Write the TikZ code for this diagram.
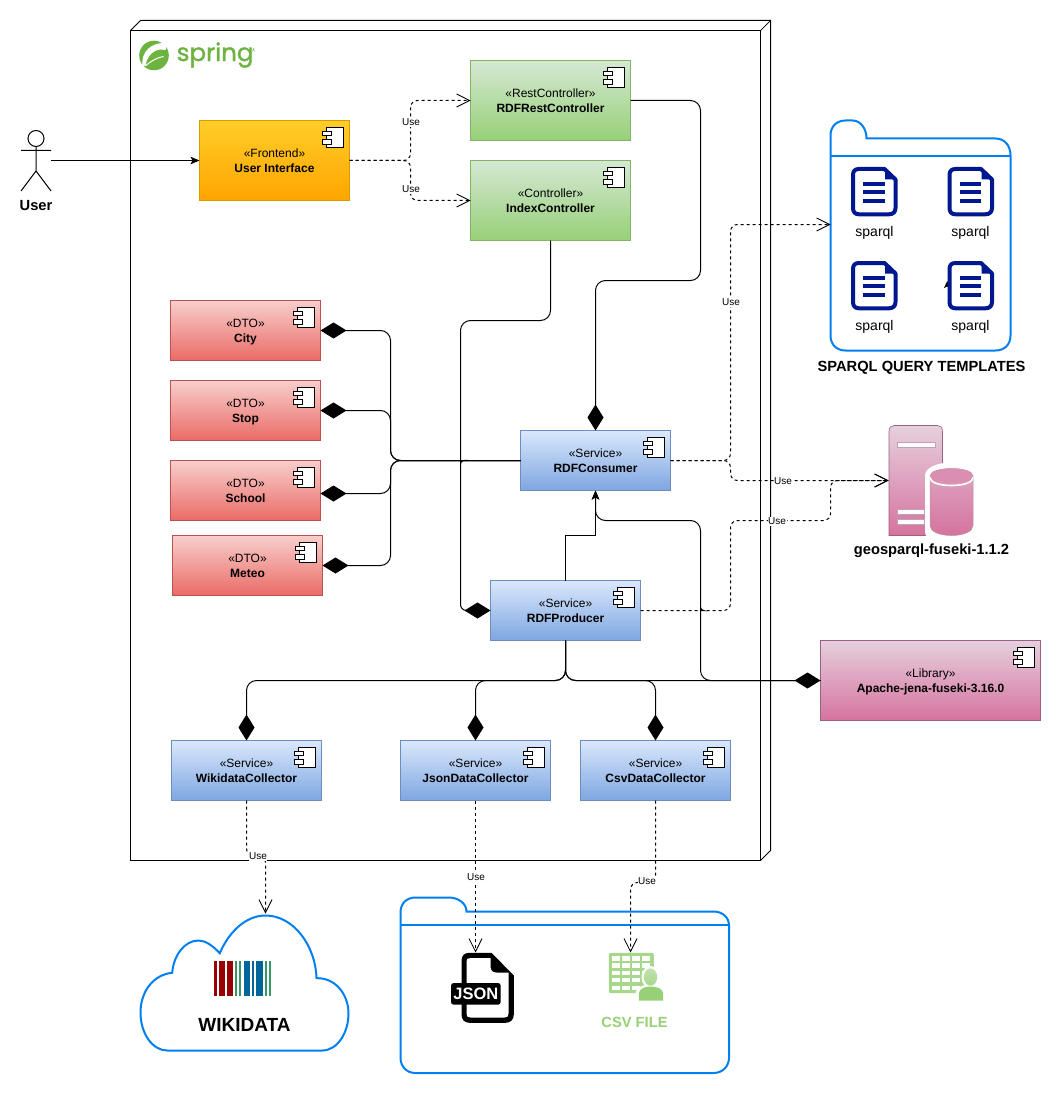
\documentclass[tikz,border=0pt]{standalone}
\usepackage{fontspec}
\setmainfont{Liberation Sans}
\newfontfamily\springfont[FakeBold=1.2]{Poppins}
\usetikzlibrary{arrows.meta,calc}
\definecolor{folderblue}{HTML}{007FF0}
\definecolor{docblue}{HTML}{00188F}
\definecolor{springgreen}{HTML}{6DB33F}
\definecolor{csvgreen}{HTML}{97D077}
\definecolor{pinktop}{HTML}{E6D0DE}
\definecolor{pinkbot}{HTML}{D5739D}
\definecolor{pinkline}{HTML}{996185}
\definecolor{orangetop}{HTML}{FFCD28}
\definecolor{orangebot}{HTML}{FFA500}
\definecolor{orangeline}{HTML}{D79B00}
\definecolor{greentop}{HTML}{D5E8D4}
\definecolor{greenline}{HTML}{82B366}
\definecolor{redtop}{HTML}{F8CECC}
\definecolor{redbot}{HTML}{EA6B66}
\definecolor{redline}{HTML}{B85450}
\definecolor{bluetop}{HTML}{DAE8FC}
\definecolor{bluebot}{HTML}{7EA6E0}
\definecolor{blueline}{HTML}{6C8EBF}
\tikzset{
  compbox/.style={draw,outer sep=0pt,inner sep=0pt,align=center,line width=1pt,
    font=\fontsize{12}{15}\selectfont},
  orangebox/.style={compbox,draw=orangeline,top color=orangetop,bottom color=orangebot},
  greenbox/.style={compbox,draw=greenline,top color=greentop,bottom color=csvgreen},
  redbox/.style={compbox,draw=redline,top color=redtop,bottom color=redbot},
  bluebox/.style={compbox,draw=blueline,top color=bluetop,bottom color=bluebot},
  pinkbox/.style={compbox,draw=pinkline,top color=pinktop,bottom color=pinkbot},
  conn/.style={line width=1pt,rounded corners=10pt},
  dashconn/.style={line width=1pt,rounded corners=7pt,dash pattern=on 3pt off 3pt},
  dia/.style={-{Diamond[length=26pt,width=16pt,sep=0pt]}},
  blocktip/.style={-{Stealth[length=9pt,width=7.5pt,inset=2pt]}},
  opentip/.style={-{Straight Barb[length=13pt,width=13pt,line width=0.8pt]}},
  uselabel/.style={fill=white,inner sep=0.6pt,font=\fontsize{10}{11}\selectfont},
  boldlabel/.style={inner sep=0pt,font=\fontsize{14.7}{16}\selectfont\bfseries},
  sparqllabel/.style={inner sep=0pt,font=\fontsize{14}{16}\selectfont},
  folderline/.style={draw=folderblue,line width=2pt,fill=white},
}
\newcommand\compnode[8]{%
  \node[#6,minimum width=#4pt,minimum height=#5pt] (#1) at (#2,#3) {\rule{0pt}{13pt}#7\\\strut\textbf{#8}};
  \draw[line width=1pt,fill=white] ([shift={(-23.3pt,-7pt)}]#1.north east) rectangle ++(17pt,-20pt);
  \draw[line width=1pt,fill=white] ([shift={(-26.7pt,-10.6pt)}]#1.north east) rectangle ++(8.4pt,-4.4pt);
  \draw[line width=1pt,fill=white] ([shift={(-26.7pt,-19.3pt)}]#1.north east) rectangle ++(8.4pt,-4.4pt);
}
\newcommand\sparqldoc[2]{%
  \begin{scope}[shift={(#1,#2)}]
    \draw[docblue,line width=4pt,line join=round,fill=white]
      (8,2) -- (33.5,2) -- (44.5,12.5) -- (44.5,41) .. controls (44.5,45) and (42,47.3) .. (38,47.3)
      -- (8,47.3) .. controls (4,47.3) and (2,45) .. (2,41) -- (2,8) .. controls (2,4) and (4,2) .. (8,2) -- cycle;
    \fill[docblue] (34,2) -- (44.5,12.5) -- (34,12.5) -- cycle;
    \foreach \r in {17,25.3,33.7} \fill[docblue] (12,\r-2) rectangle (33.5,\r+2);
  \end{scope}%
}
\begin{document}
\begin{tikzpicture}[x=1pt,y=-1pt]
\useasboundingbox[fill=white] (-0.5,-0.5) rectangle (1060.5,1093.5);

% spring box
\draw[line width=1pt,fill=white] (130,30) rectangle (760,860);
\draw[line width=1pt] (130,30) -- (140,20) -- (770,20) -- (770,850) -- (760,860);
\draw[line width=0.7pt] (760,30) -- (770,20);

% spring logo
\fill[springgreen] (153.5,55) circle[radius=14.8pt];
\fill[white] (166,40.5) circle[radius=2pt];
\fill[white] (142,66) .. controls (140,51) and (151,41.5) .. (166,42.5)
  .. controls (167,44) and (166,47) .. (165,49.5) .. controls (155,47) and (147,54) .. (145,65) -- cycle;
\draw[white,line width=1pt] (145,65.5) .. controls (151,60) and (157,57) .. (163,56);
\node[inner sep=0pt,anchor=west,text=springgreen,font=\springfont\fontsize{24.5}{30}\selectfont] (springtext) at (176,54.5) {spring};
\draw[springgreen,line width=0.4pt] (252,51) -- (253,48) -- (254,51);

% named free ends
\coordinate (sparqlin) at (830,224);
\coordinate (serverin) at (888,480);
\coordinate (cloudtop) at (265,913);
\coordinate (jsontop) at (475,952);
\coordinate (csvtop) at (630,952);
\coordinate (actorhand) at (50,160);

% actor
\draw[line width=1pt,fill=white] (35.5,138) circle[radius=8pt];
\draw[line width=1pt] (35.5,146) -- (35.5,170.5) (20.5,150) -- (50.5,150)
  (20.5,190.5) -- (35.5,170.5) -- (50.5,190.5);
\node[boldlabel] (userlabel) at (35.5,205) {User};

% nodes
\compnode{ui}{274}{160}{150}{80}{orangebox}{«Frontend»}{User Interface}
\compnode{rest}{550}{100}{160}{80}{greenbox}{«RestController»}{RDFRestController}
\compnode{index}{550}{200}{160}{80}{greenbox}{«Controller»}{IndexController}
\compnode{city}{245}{330}{150}{60}{redbox}{«DTO»}{City}
\compnode{stop}{245}{410}{150}{60}{redbox}{«DTO»}{Stop}
\compnode{school}{245}{490}{150}{60}{redbox}{«DTO»}{School}
\compnode{meteo}{247}{565}{150}{60}{redbox}{«DTO»}{Meteo}
\compnode{consumer}{595}{460}{150}{60}{bluebox}{«Service»}{RDFConsumer}
\compnode{producer}{565}{610}{150}{60}{bluebox}{«Service»}{RDFProducer}
\compnode{library}{930}{680}{220}{80}{pinkbox}{«Library»}{Apache-jena-fuseki-3.16.0}
\compnode{wikidata}{246}{770}{150}{60}{bluebox}{«Service»}{WikidataCollector}
\compnode{jsonc}{475}{770}{150}{60}{bluebox}{«Service»}{JsonDataCollector}
\compnode{csvc}{655}{770}{150}{60}{bluebox}{«Service»}{CsvDataCollector}

% sparql folder
\draw[folderline] (830,335) -- (830,135) .. controls (830,126) and (836,120) .. (845,120) -- (852,120)
  .. controls (860,120) and (866,128) .. (866,138) -- (995,138) .. controls (1004,138) and (1010,145) .. (1010,155)
  -- (1010,335) .. controls (1010,344) and (1004,350) .. (995,350) -- (845,350)
  .. controls (836,350) and (830,344) .. (830,335) -- cycle;
\draw[draw=folderblue,line width=2pt] (830,155.5) -- (1010,155.5);
\fill[black] (946.7,280.5) -- (950.5,287.5) -- (946.7,286) -- (943.5,287.5) -- cycle;
\sparqldoc{850.5}{166.5}
\sparqldoc{947}{166.5}
\sparqldoc{850.5}{260.5}
\sparqldoc{947}{260.5}
\node[sparqllabel] (sp1) at (874,232) {sparql};
\node[sparqllabel] (sp2) at (970,232) {sparql};
\node[sparqllabel] (sp3) at (874,326) {sparql};
\node[sparqllabel] (sp4) at (970,326) {sparql};
\node[boldlabel] (sparqltitle) at (921,367) {SPARQL QUERY TEMPLATES};

% server
\path[draw=pinkline,line width=0.6pt,top color=pinktop,bottom color=pinkbot] (888.5,535) -- (888.5,431)
  .. controls (888.5,427) and (890.5,425) .. (893.5,425) -- (937,425)
  .. controls (940,425) and (942,427) .. (942,431) -- (942,535) -- cycle;
\foreach \a/\b/\c in {896.7/441.7/934.7,896.7/508.3/924,896.7/519/924}
  \draw[fill=white,draw=pinkline!60!white,line width=0.5pt] (\a,\b) rectangle (\c,\b+5);
\fill[white] (924.5,475) .. controls (924.5,468) and (935,462) .. (951,462)
  .. controls (967,462) and (978,468) .. (978,475) -- (978,542) -- (930,542) .. controls (926,538) and (924.5,534) .. (924.5,530) -- cycle;
\path[draw=pinkline!70!white,line width=0.5pt,top color=pinktop!55!pinkbot,bottom color=pinkbot] (929.5,475.5)
  .. controls (929.5,471) and (939,468) .. (951,468) .. controls (963,468) and (972.5,471) .. (972.5,475.5)
  -- (972.5,525) .. controls (972.5,531) and (963,535) .. (951,535)
  .. controls (939,535) and (929.5,531) .. (929.5,525) -- cycle;
\fill[pinkbot!70!pinktop] (929.5,475.5)
  .. controls (929.5,471) and (939,468) .. (951,468) .. controls (963,468) and (972.5,471) .. (972.5,475.5)
  .. controls (972.5,480) and (963,483) .. (951,483) .. controls (939,483) and (929.5,480) .. (929.5,475.5) -- cycle;
\draw[white,line width=1.6pt] (929.5,477) .. controls (929.5,482) and (939,485) .. (951,485)
  .. controls (963,485) and (972.5,482) .. (972.5,477);
\node[boldlabel] (serverlabel) at (931,550) {geosparql-fuseki-1.1.2};

% cloud
\draw[draw=folderblue,line width=2pt,fill=white] (166.7,1050) -- (321.7,1050) .. controls (337,1050) and (348,1032) .. (348,1013)
  .. controls (348,993) and (334,977) .. (316,977.7) .. controls (315,945) and (293,915) .. (265,915)
  .. controls (245,915) and (228,932) .. (219.3,952.7) .. controls (212,945) and (205,940) .. (198,940)
  .. controls (184,940) and (173,955) .. (171.7,972.3) .. controls (153,974) and (140,991) .. (140,1012)
  .. controls (140,1033) and (152,1050) .. (166.7,1050) -- cycle;
\foreach \a/\b/\c in {250/258/990000,264/283/990000,289/307/990000,313/319/339966,325/332/339966,
  339/358/006699,364/371/006699,377/396/006699,403/409/339966,415/422/339966}{
  \definecolor{barcol}{HTML}{\c}
  \fill[barcol] (130+\a/3,960) rectangle (130+\b/3,995.5);
}
\node[inner sep=0pt,font=\fontsize{19}{20}\selectfont\bfseries] (wikilabel) at (244,1024) {WIKIDATA};

% files folder
\draw[folderline] (400,1057) -- (400,912) .. controls (400,903) and (406,897) .. (415,897) -- (448,897)
  .. controls (458,897) and (466,903) .. (466,911) -- (713,911) .. controls (722,911) and (728.5,917) .. (728.5,925)
  -- (728.5,1057) .. controls (728.5,1066) and (722,1072.5) .. (713,1072.5) -- (415,1072.5)
  .. controls (406,1072.5) and (400,1066) .. (400,1057) -- cycle;
\draw[draw=folderblue,line width=2pt] (400,924.5) -- (728.5,924.5);

% json icon
\fill[black] (469,952.3) -- (491,952.3) -- (513.3,975) -- (513.3,1014) .. controls (513.3,1019) and (510,1022.3) .. (505,1022.3)
  -- (469,1022.3) .. controls (464,1022.3) and (461,1019) .. (461,1014) -- (461,960) .. controls (461,955) and (464,952.3) .. (469,952.3) -- cycle;
\fill[white] (470,957.5) -- (490,957.5) -- (490,966) .. controls (490,970) and (492,972) .. (496,972) -- (508,972)
  -- (508,1013) .. controls (508,1016) and (507,1017) .. (504,1017) -- (470,1017) .. controls (467,1017) and (466,1016) .. (466,1013)
  -- (466,961) .. controls (466,958.5) and (467,957.5) .. (470,957.5) -- cycle;
\fill[black,rounded corners=2pt] (450.7,982.7) rectangle (500,1004);
\node[text=white,inner sep=0pt,font=\fontsize{16.5}{17}\selectfont\bfseries] (jsonlabel) at (475.3,993.3) {JSON};

% csv icon
\fill[csvgreen!85!white,rounded corners=2pt] (608.3,952.3) rectangle (653.3,992.7);
\foreach \r in {955.7,962.8,970,977.3,985}
  \foreach \c in {611,621,631,641}
    \fill[white] (\c,\r) rectangle (\c+8.4,\r+4.6);
\fill[white] (650,976.5) ellipse[x radius=9pt,y radius=11pt];
\fill[white] (635,1002) -- (635,992) .. controls (636,986) and (644,984) .. (650,984)
  .. controls (658,984) and (665,986) .. (665,992) -- (665,1002) -- cycle;
\shade[top color=csvgreen!60!white,bottom color=csvgreen!85!white] (650,976.5) ellipse[x radius=6.7pt,y radius=8.7pt];
\fill[csvgreen] (638.3,1000) -- (638.3,993) .. controls (639,988) and (644,986) .. (650,986)
  .. controls (657,986) and (662,988) .. (662.7,993) -- (662.7,1000) -- cycle;
\node[inner sep=0pt,text=csvgreen,font=\fontsize{14.7}{16}\selectfont\bfseries] (csvlabel) at (634,1022) {CSV FILE};

% connectors
\draw[line width=1pt,blocktip] (actorhand) -- (ui.west);
\draw[dashconn,opentip] (ui.east) -- (410,160) -- (410,100) -- (rest.west);
\draw[dashconn,opentip] (ui.east) -- (410,160) -- (410,200) -- (index.west);
\node[uselabel] (use1) at (410.5,122) {Use};
\node[uselabel] (use2) at (410.5,189) {Use};

\draw[conn,dia] (rest.east) -- (700,100) -- (700,280) -- (595,280) -- (consumer.north);
\draw[line width=1pt,dia] (index.south) [rounded corners=10pt] -- (550,320) -- (460,320) -- (460,456.5) [sharp corners]
  .. controls (460,458.5) and (461.5,460) .. (463.5,460) .. controls (461.5,460) and (460,461.5) .. (460,463.5)
  [rounded corners=6pt] -- (460,610) -- (producer.west);

\draw[conn,dia] (consumer.west) -- (390,460) -- (390,330) -- (city.east);
\draw[conn,dia] (consumer.west) -- (390,460) -- (390,410) -- (stop.east);
\draw[conn,dia] (consumer.west) -- (390,460) -- (390,493) -- ([yshift=-3pt]school.east);
\draw[conn,dia] (consumer.west) -- (390,460) -- (390,565) -- (meteo.east);

\draw[line width=1pt,blocktip] (producer.north) -- (565,535) -- (595,535) -- (consumer.south);
\draw[line width=1pt,blocktip] (library.west) [rounded corners=10pt] -- (700,680) -- (700,613.5) [sharp corners]
  .. controls (700,611.5) and (701.5,610) .. (703.5,610) .. controls (701.5,610) and (700,608.5) .. (700,606.5)
  [rounded corners=10pt] -- (700,520) -- (595,520) -- (consumer.south);

\draw[conn,dia] (producer.south) -- (565,680) -- (library.west);
\draw[conn,dia] (producer.south) -- (565,680) -- (246,680) -- (wikidata.north);
\draw[conn,dia] (producer.south) -- (565,680) -- (475,680) -- (jsonc.north);
\draw[conn,dia] (producer.south) -- (565,680) -- (655,680) -- (csvc.north);

\draw[dashconn,opentip] (consumer.east) -- (730,460) -- (730,224) -- (sparqlin);
\draw[dashconn,opentip] (consumer.east) -- (730,460) -- (730,480) -- (serverin);
\draw[dashconn,opentip] (producer.east) -- (730,610) -- (730,520) -- (830,520) -- (830,480) -- (serverin);
\node[uselabel] (use3) at (730.5,302) {Use};
\node[uselabel] (use4) at (782.5,481) {Use};
\node[uselabel] (use5) at (776.5,521) {Use};

\draw[dashconn,opentip] (wikidata.south) -- (246,855) -- (265,855) -- (cloudtop);
\draw[dashconn,opentip] (jsonc.south) -- (jsontop);
\draw[dashconn,opentip] (csvc.south) -- (655,882) -- (630,882) -- (csvtop);
\node[uselabel] (use6) at (257.5,856) {Use};
\node[uselabel] (use7) at (475.5,877) {Use};
\node[uselabel] (use8) at (646.5,881) {Use};
\end{tikzpicture}
\end{document}
